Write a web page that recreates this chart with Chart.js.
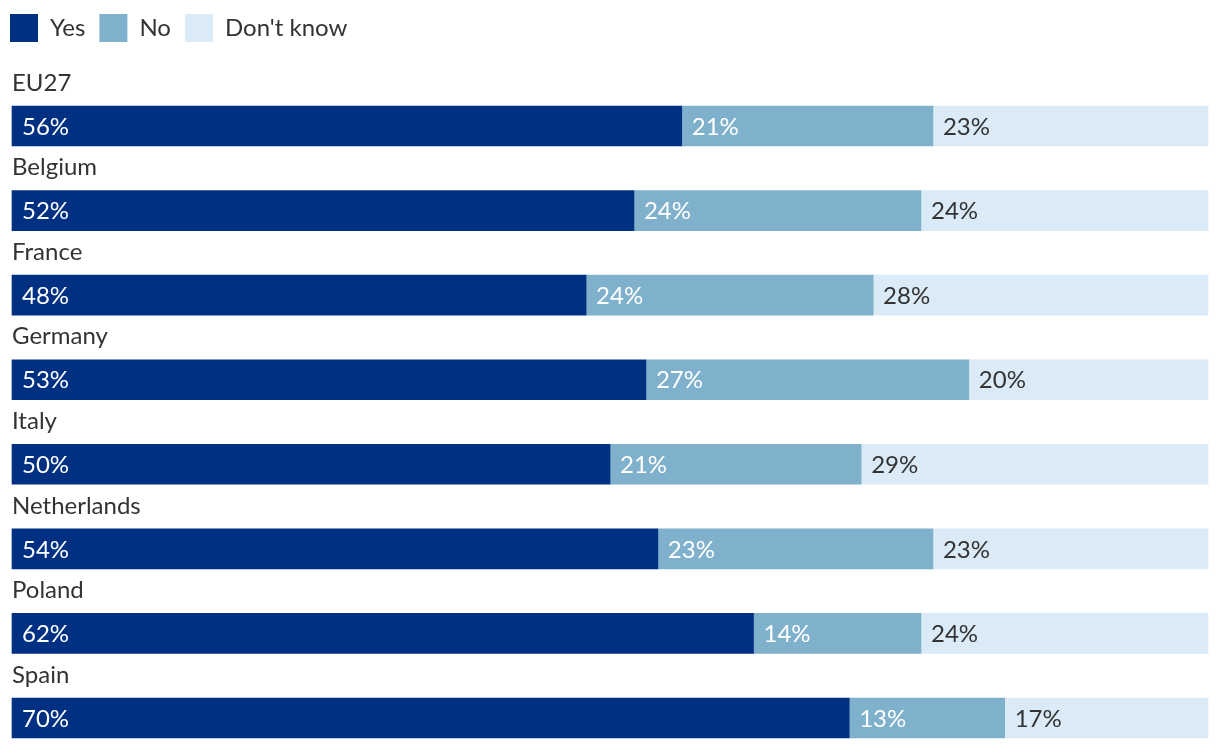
<!DOCTYPE html>
<html>
<head>
<meta charset="utf-8">
<script src="https://cdn.jsdelivr.net/npm/chart.js@4"></script>
<style>
html, body { margin: 0; padding: 0; background: #fff; }
#wrap { width: 1220px; height: 750px; position: relative; }
</style>
</head>
<body>
<div id="wrap"><canvas id="chart"></canvas></div>
<script>
var countries = ['EU27', 'Belgium', 'France', 'Germany', 'Italy', 'Netherlands', 'Poland', 'Spain'];
var yesValues = [56, 52, 48, 53, 50, 54, 62, 70];
var noValues = [21, 24, 24, 27, 21, 23, 14, 13];
var dontKnowValues = [23, 24, 28, 20, 29, 23, 24, 17];

var textColor = '#333333';
var fontFamily = 'Lato, "Noto Sans", sans-serif';

// labels inside the bars + country names above each bar
var barLabels = {
    id: 'barLabels',
    afterDatasetsDraw: function (chart) {
        var ctx = chart.ctx;
        ctx.save();
        ctx.font = '24px ' + fontFamily;
        ctx.textBaseline = 'middle';
        ctx.textAlign = 'left';

        chart.data.datasets.forEach(function (ds, di) {
            var meta = chart.getDatasetMeta(di);
            meta.data.forEach(function (bar, i) {
                ctx.fillStyle = di === 2 ? textColor : '#ffffff';
                ctx.fillText(ds.data[i] + '%', Math.min(bar.base, bar.x) + 10, bar.y + 1);
            });
        });

        var yScale = chart.scales.y;
        ctx.fillStyle = textColor;
        countries.forEach(function (name, i) {
            ctx.fillText(name, chart.chartArea.left, yScale.getPixelForValue(i) - 43);
        });
        ctx.restore();
    }
};

new Chart(document.getElementById('chart'), {
    type: 'bar',
    data: {
        labels: countries,
        datasets: [{
            label: 'Yes',
            data: yesValues,
            backgroundColor: '#003082'
        }, {
            label: 'No',
            data: noValues,
            backgroundColor: '#7fb0cc'
        }, {
            label: "Don't know",
            data: dontKnowValues,
            backgroundColor: '#daeaf6'
        }]
    },
    options: {
        indexAxis: 'y',
        responsive: true,
        maintainAspectRatio: false,
        animation: false,
        datasets: {
            bar: {barThickness: 40, borderWidth: 0, clip: false}
        },
        layout: {
            padding: {top: 0, right: 12, bottom: 32, left: -4}
        },
        scales: {
            x: {
                stacked: true,
                min: 0,
                max: 100,
                position: 'top',
                grid: {display: false},
                border: {display: false},
                ticks: {display: false},
                afterFit: function (s) { s.height = 74; }
            },
            y: {
                stacked: true,
                offset: false,
                grid: {display: false},
                border: {display: false},
                ticks: {display: false},
                afterFit: function (s) { s.width = 16; }
            }
        },
        plugins: {
            legend: {
                position: 'top',
                align: 'start',
                labels: {
                    boxWidth: 28,
                    boxHeight: 28,
                    padding: 14,
                    color: textColor,
                    font: {family: fontFamily, size: 24}
                }
            },
            tooltip: {enabled: false}
        }
    },
    plugins: [barLabels]
});
</script>
</body>
</html>
